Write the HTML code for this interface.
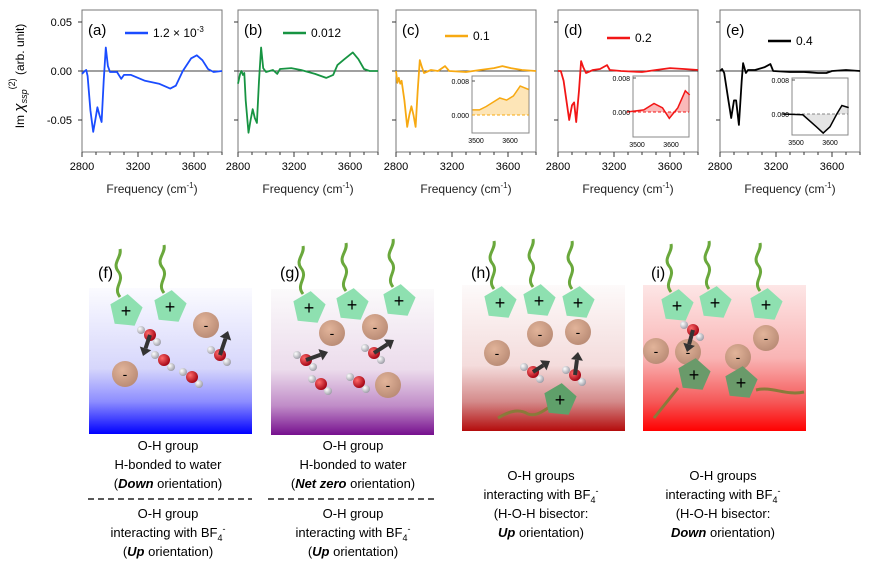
<!DOCTYPE html><html><head><meta charset="utf-8"><style>
body{margin:0;background:#fff;width:871px;height:573px;overflow:hidden}
svg{font-family:"Liberation Sans",sans-serif}
</style></head><body>
<svg id="s" width="871" height="573" viewBox="0 0 871 573" xmlns="http://www.w3.org/2000/svg">
<defs>
<linearGradient id="gf" x1="0" y1="0" x2="0" y2="1"><stop offset="0" stop-color="#fbfbff"/><stop offset="0.55" stop-color="#d6d6fb"/><stop offset="0.78" stop-color="#8c8cff"/><stop offset="1" stop-color="#0000ff"/></linearGradient>
<linearGradient id="gg" x1="0" y1="0" x2="0" y2="1"><stop offset="0" stop-color="#fbfafb"/><stop offset="0.55" stop-color="#ecdcec"/><stop offset="0.8" stop-color="#c08cc8"/><stop offset="1" stop-color="#76108e"/></linearGradient>
<linearGradient id="gh" x1="0" y1="0" x2="0" y2="1"><stop offset="0" stop-color="#fdfafa"/><stop offset="0.55" stop-color="#f4dcdc"/><stop offset="0.8" stop-color="#d48a8a"/><stop offset="1" stop-color="#b40c0c"/></linearGradient>
<linearGradient id="gi" x1="0" y1="0" x2="0" y2="1"><stop offset="0" stop-color="#fde6e6"/><stop offset="0.5" stop-color="#f9b4b4"/><stop offset="0.8" stop-color="#f55858"/><stop offset="1" stop-color="#ff0000"/></linearGradient>
<radialGradient id="ro" cx="0.35" cy="0.35" r="0.7"><stop offset="0" stop-color="#ff6a6a"/><stop offset="1" stop-color="#a00010"/></radialGradient>
<radialGradient id="rh" cx="0.35" cy="0.35" r="0.7"><stop offset="0" stop-color="#ffffff"/><stop offset="1" stop-color="#9a9aa4"/></radialGradient>
<radialGradient id="ra" cx="0.4" cy="0.35" r="0.7"><stop offset="0" stop-color="#e2b49a"/><stop offset="1" stop-color="#b88a74"/></radialGradient>
</defs>
</svg>
<script>
var s=document.getElementById('s'),h='';
function T(x,y,t,o){o=o||'';h+='<text x="'+x+'" y="'+y+'" '+o+'>'+t+'</text>';}
var panels=[
{x:82,c:'#1a4cff',lab:'(a)',leg:'1.2 × 10<tspan dy="-5" font-size="8">-3</tspan>',lx:125,ly:37,d:[[2800,-.003],[2820,0],[2830,.001],[2840,-.005],[2860,-.04],[2880,-.062],[2895,-.05],[2910,-.037],[2925,-.045],[2940,-.052],[2955,-.01],[2970,.024],[2985,.005],[3000,-.001],[3050,-.001],[3080,-.008],[3100,-.004],[3150,-.004],[3250,-.01],[3350,-.013],[3430,-.018],[3470,-.015],[3520,0],[3580,.013],[3620,.016],[3660,.011],[3700,.002],[3740,-.001],[3800,0]]},
{x:238,c:'#179442',lab:'(b)',leg:'0.012',lx:283,ly:37,d:[[2800,-.013],[2815,-.003],[2825,0],[2835,-.004],[2845,-.002],[2855,-.03],[2875,-.063],[2890,-.05],[2905,-.039],[2920,-.048],[2935,-.053],[2950,-.01],[2965,.024],[2980,.003],[3000,-.001],[3050,.001],[3080,-.003],[3100,.002],[3180,.003],[3250,.001],[3350,-.003],[3430,-.007],[3480,-.004],[3510,.006],[3560,.012],[3620,.019],[3660,.012],[3700,.002],[3740,0],[3800,0]]},
{x:396,c:'#f7a912',lab:'(c)',leg:'0.1',lx:445,ly:40,d:[[2800,0],[2810,-.012],[2820,-.007],[2830,-.013],[2840,-.01],[2860,-.03],[2880,-.057],[2895,-.045],[2910,-.036],[2925,-.045],[2940,-.057],[2955,-.02],[2970,.011],[2985,.004],[3000,-.002],[3050,.001],[3100,0],[3150,.005],[3180,0],[3300,-.001],[3400,.001],[3500,.003],[3560,.005],[3620,.003],[3700,.001],[3800,0]],
 ins:{x:472,y:76,w:57,h:57,z:115,d:[[3490,.0012],[3510,.0012],[3530,.002],[3570,.004],[3590,.0035],[3610,.0045],[3630,.0068],[3655,.006]]}},
{x:558,c:'#f21616',lab:'(d)',leg:'0.2',lx:607,ly:42,d:[[2800,0],[2820,0],[2840,-.01],[2860,-.03],[2880,-.05],[2900,-.035],[2915,-.032],[2930,-.052],[2950,-.02],[2965,.01],[2980,.004],[3000,-.002],[3050,.001],[3100,.002],[3150,.006],[3170,.001],[3250,0],[3400,-.001],[3500,.001],[3600,.003],[3700,.002],[3800,.001]],
 ins:{x:633,y:76,w:56,h:61,z:112,d:[[3470,0],[3520,.0005],[3550,.002],[3575,.001],[3595,-.0015],[3620,.001],[3642,.005],[3655,.004]]}},
{x:720,c:'#000',lab:'(e)',leg:'0.4',lx:768,ly:45,d:[[2800,0],[2815,.002],[2830,-.002],[2860,-.03],[2880,-.048],[2900,-.03],[2915,-.03],[2935,-.055],[2955,-.01],[2965,.008],[2985,-.002],[3000,.001],[3050,.001],[3120,.004],[3160,.007],[3180,0],[3300,-.001],[3400,-.001],[3500,-.002],[3560,-.002],[3600,0],[3700,.001],[3800,0]],
 ins:{x:792,y:78,w:56,h:57,z:114,d:[[3460,0],[3520,-.0002],[3560,-.003],[3580,-.0045],[3600,-.003],[3620,0],[3635,.002],[3655,.0015]]}}];
panels.forEach(function(p,i){
 var X=function(f){return p.x+(f-2800)*0.14},Y=function(v){return 71-v*980};
 h+='<rect x="'+p.x+'" y="10" width="140" height="142" fill="none" stroke="#777" stroke-width="1"/>';
 h+='<line x1="'+p.x+'" y1="71" x2="'+(p.x+140)+'" y2="71" stroke="#000" stroke-width="0.8"/>';
 [22,71,120].forEach(function(y){h+='<line x1="'+(p.x-4)+'" y1="'+y+'" x2="'+p.x+'" y2="'+y+'" stroke="#333"/>'});
 for(var f=2800;f<=3800;f+=100){var tl=(f%400==0)?5:3;h+='<line x1="'+X(f)+'" y1="152" x2="'+X(f)+'" y2="'+(152+tl)+'" stroke="#333"/>';}
 [2800,3200,3600].forEach(function(f){T(X(f),170,f,'font-size="11" text-anchor="middle"')});
 T(p.x+70,193,'Frequency (cm<tspan dy="-5" font-size="8">-1</tspan><tspan dy="5">)</tspan>','font-size="12" text-anchor="middle" fill="#222"');
 T(p.x+6,35,p.lab,'font-size="15"');
 h+='<line x1="'+p.lx+'" y1="'+(p.ly-4)+'" x2="'+(p.lx+23)+'" y2="'+(p.ly-4)+'" stroke="'+p.c+'" stroke-width="2.5"/>';
 T(p.lx+28,p.ly,p.leg,'font-size="12"');
 h+='<polyline fill="none" stroke="'+p.c+'" stroke-width="1.8" stroke-linejoin="round" points="'+p.d.map(function(q){return X(q[0]).toFixed(1)+','+Y(q[1]).toFixed(1)}).join(' ')+'"/>';
 if(p.ins){var n=p.ins,IX=function(f){return n.x+4+(f-3500)*0.34},IY=function(v){return n.z-v*4250};
  h+='<rect x="'+n.x+'" y="'+n.y+'" width="'+n.w+'" height="'+n.h+'" fill="#fff" stroke="#888"/>';
  var pts=n.d.map(function(q){return IX(q[0]).toFixed(1)+','+IY(q[1]).toFixed(1)}).join(' ');
  h+='<polygon fill="'+(p.c=='#000'?'#aaa':p.c)+'" fill-opacity="0.3" points="'+IX(n.d[0][0])+','+n.z+' '+pts+' '+IX(n.d[n.d.length-1][0])+','+n.z+'"/>';
  h+='<line x1="'+n.x+'" y1="'+n.z+'" x2="'+(n.x+n.w)+'" y2="'+n.z+'" stroke="'+(p.c=='#000'?'#888':p.c)+'" stroke-dasharray="3,2"/>';
  h+='<polyline fill="none" stroke="'+p.c+'" stroke-width="1.5" points="'+pts+'"/>';
  T(n.x-3,IY(.008)+3,'0.008','font-size="7" text-anchor="end"');T(n.x-3,n.z+3,'0.000','font-size="7" text-anchor="end"');
  h+='<line x1="'+n.x+'" y1="'+IY(.008)+'" x2="'+(n.x+3)+'" y2="'+IY(.008)+'" stroke="#555"/>';
  T(IX(3500),n.y+n.h+10,'3500','font-size="7" text-anchor="middle"');T(IX(3600),n.y+n.h+10,'3600','font-size="7" text-anchor="middle"');
 }
});
T(72,26,'0.05','font-size="11" text-anchor="end"');
T(72,75,'0.00','font-size="11" text-anchor="end"');T(72,124,'-0.05','font-size="11" text-anchor="end"');
h+='<text transform="translate(24,76) rotate(-90)" font-size="12" text-anchor="middle">Im <tspan font-style="italic" font-size="15">χ</tspan><tspan font-style="italic" font-size="9" dy="3">ssp</tspan><tspan font-size="9" dy="-12">(2)</tspan><tspan dy="9"> (arb. unit)</tspan></text>';
[[89,288,'gf'],[271,289,'gg'],[462,285,'gh'],[643,285,'gi']].forEach(function(b){h+='<rect x="'+b[0]+'" y="'+b[1]+'" width="163" height="146" fill="url(#'+b[2]+')"/>'});
function pent(x,y,col,tail){var r=17,pts=[];for(var k=0;k<5;k++){var a=-Math.PI/2+k*2*Math.PI/5+0.1;pts.push((x+r*Math.cos(a)).toFixed(1)+','+(y+r*Math.sin(a)).toFixed(1))}
 if(tail)h+='<path d="M'+(x-6)+' '+(y-14)+' c-8 -10 6 -16 -2 -26 c-6 -8 4 -14 2 -22" fill="none" stroke="#6aa83c" stroke-width="3"/>';
 h+='<polygon points="'+pts.join(' ')+'" fill="'+(col||'#8ee0b0')+'"/>';T(x,y+6,'+','font-size="18" text-anchor="middle"');}
function an(x,y){h+='<circle cx="'+x+'" cy="'+y+'" r="13" fill="url(#ra)"/>';T(x,y+5,'-','font-size="14" text-anchor="middle"');}
function arr(x1,y1,x2,y2){var dx=x2-x1,dy=y2-y1,L=Math.sqrt(dx*dx+dy*dy),ux=dx/L,uy=dy/L,bx=x2-ux*8,by=y2-uy*8;
 h+='<line x1="'+x1+'" y1="'+y1+'" x2="'+bx+'" y2="'+by+'" stroke="#333" stroke-width="4"/>';
 h+='<polygon fill="#333" points="'+x2+','+y2+' '+(bx-uy*6)+','+(by+ux*6)+' '+(bx+uy*6)+','+(by-ux*6)+'"/>';}
function w(x,y,ax,ay){h+='<circle cx="'+(x-9)+'" cy="'+(y-5)+'" r="4" fill="url(#rh)"/><circle cx="'+(x+7)+'" cy="'+(y+7)+'" r="4" fill="url(#rh)"/><circle cx="'+x+'" cy="'+y+'" r="6" fill="url(#ro)"/>';
 if(ax!=null)arr(x,y,ax,ay);}
pent(126,311,0,1);pent(170,307,0,1);an(206,325);an(125,374);
w(150,335,143,356);w(164,360);w(192,377);w(220,355,228,331);
pent(309,308,0,1);pent(352,305,0,1);pent(399,301,0,1);an(332,333);an(375,327);an(388,385);
w(306,360,328,352);w(321,384);w(359,382);w(374,353,394,340);
pent(500,303,0,1);pent(539,301,0,1);pent(578,303,0,1);an(540,334);an(578,332);an(497,353);
w(533,372,550,361);w(575,375,578,352);
h+='<path d="M498 418 c10 -6 20 -10 30 -4 c10 4 20 -8 28 -10" fill="none" stroke="#8a7a3a" stroke-width="3"/>';pent(560,400,'#5fa06a');
pent(677,306,0,1);pent(715,303,0,1);pent(766,305,0,1);an(766,338);an(688,352);an(738,357);an(656,351);
w(693,330,687,352);
h+='<path d="M654 418 c8 -10 16 -20 24 -30 M756 390 c16 -4 30 6 48 2" fill="none" stroke="#8a7a3a" stroke-width="3"/>';pent(694,375,'#6a9a6a');pent(741,383,'#6a9a6a');
[['(f)',98],['(g)',280],['(h)',471],['(i)',651]].forEach(function(q){T(q[1],278,q[0],'font-size="16"')});
function tb(cx,y0,lines){lines.forEach(function(l,k){T(cx,y0+k*19,l,'font-size="13" text-anchor="middle"')});}
var BF='interacting with BF<tspan font-size="9" dy="4">4</tspan><tspan font-size="9" dy="-9">-</tspan>';
tb(168,450,['O-H group','H-bonded to water','(<tspan font-weight="bold" font-style="italic">Down</tspan> orientation)']);
tb(168,518,['O-H group',BF,'(<tspan font-weight="bold" font-style="italic">Up</tspan> orientation)']);
tb(353,450,['O-H group','H-bonded to water','(<tspan font-weight="bold" font-style="italic">Net zero</tspan>  orientation)']);
tb(353,518,['O-H group',BF,'(<tspan font-weight="bold" font-style="italic">Up</tspan> orientation)']);
h+='<line x1="88" y1="499" x2="252" y2="499" stroke="#222" stroke-width="1.5" stroke-dasharray="6,4"/><line x1="268" y1="499" x2="438" y2="499" stroke="#222" stroke-width="1.5" stroke-dasharray="6,4"/>';
tb(541,480,['O-H groups',BF,'(H-O-H bisector:','<tspan font-weight="bold" font-style="italic">Up</tspan> orientation)']);
tb(723,480,['O-H groups',BF,'(H-O-H bisector:','<tspan font-weight="bold" font-style="italic">Down</tspan> orientation)']);
s.insertAdjacentHTML('beforeend',h);
</script>
</body></html>
